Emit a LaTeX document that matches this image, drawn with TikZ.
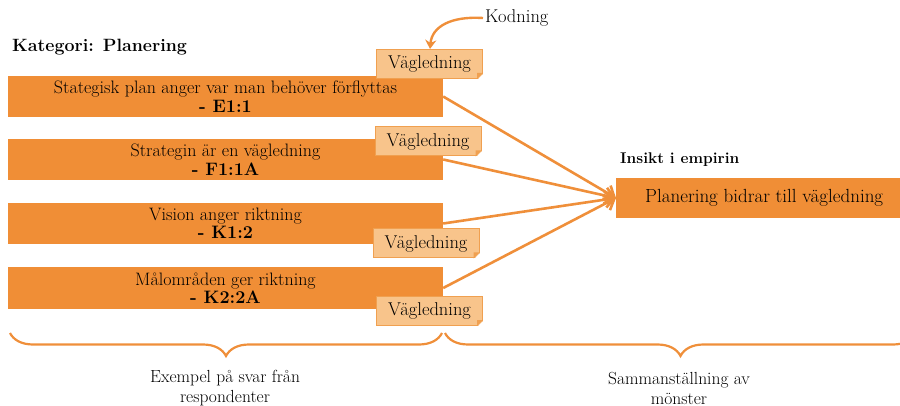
\documentclass[tikz,border=0pt]{standalone}
\usetikzlibrary{arrows.meta,decorations.pathreplacing}
\definecolor{boxor}{HTML}{F08E36}
\definecolor{tagfill}{HTML}{F8C48B}
\definecolor{tagline}{HTML}{F0A050}
\definecolor{linor}{HTML}{EF8F3A}
\tikzset{
  sbox/.style={fill=boxor, minimum width=435pt, minimum height=41pt, inner sep=0pt, align=center,
    font=\fontsize{18}{18.5}\selectfont},
  tagbox/.style={fill=tagfill, draw=tagline, line width=1pt, minimum width=106pt, minimum height=29pt,
    inner sep=0pt, font=\fontsize{18.5}{20}\selectfont},
  conn/.style={draw=linor, line width=2.6pt, -{Straight Barb[length=9pt,width=16pt,line width=2.6pt]}},
  bracestyle/.style={draw=linor, line width=2.2pt, decorate, decoration={brace,mirror,amplitude=23pt}},
  lbl/.style={align=center, font=\fontsize{17.5}{20}\selectfont},
}
\newcommand{\tagfold}[1]{%
  \fill[tagline] ([xshift=-6pt]#1.south east) -- ([yshift=6pt]#1.south east) -- ([xshift=-6pt,yshift=6pt]#1.south east) -- cycle;
  \fill[white] ([xshift=-5.5pt,yshift=-0.6pt]#1.south east) -- ([xshift=0.6pt,yshift=5.5pt]#1.south east) -- ([xshift=0.6pt,yshift=-0.6pt]#1.south east) -- cycle;}
\begin{document}
\begin{tikzpicture}[x=1pt,y=-1pt]
\useasboundingbox (0,0) rectangle (900,406);
\clip (0,0) rectangle (900,406);

\node[font=\fontsize{17.8}{20}\selectfont\bfseries, anchor=west, inner sep=0pt] (kat) at (12,47) {Kategori: Planering};
\node[font=\fontsize{18.5}{20}\selectfont, anchor=west, inner sep=0pt] (kod) at (485,18) {Kodning};

\node[sbox] (b1) at (225.5,96.5) {Stategisk plan anger var man behöver förflyttas\\\textbf{- E1:1}};
\node[sbox] (b2) at (225.5,159.5) {Strategin är en vägledning\\\textbf{- F1:1A}};
\node[sbox] (b3) at (225.5,223.5) {Vision anger riktning\\\textbf{- K1:2}};
\node[sbox] (b4) at (225.5,288) {Målområden ger riktning\\\textbf{- K2:2A}};

\node[font=\fontsize{15.5}{18}\selectfont\bfseries, anchor=west, inner sep=0pt] (ins) at (620,160) {Insikt i empirin};
\node[fill=boxor, minimum width=290pt, minimum height=40pt, inner sep=0pt, anchor=west,
  font=\fontsize{19}{20}\selectfont] (tg) at (616,198) {\hspace*{6pt}Planering bidrar till vägledning};

\draw[conn] (b1.east) -- (tg.west);
\draw[conn] (b2.east) -- (tg.west);
\draw[conn] (b3.east) -- (tg.west);
\draw[conn] (b4.east) -- (tg.west);

\node[tagbox] (t1) at (429.5,64) {Vägledning};
\node[tagbox] (t2) at (428,141.5) {Vägledning};
\node[tagbox] (t3) at (426,243.5) {Vägledning};
\node[tagbox] (t4) at (429.5,311) {Vägledning};
\tagfold{t1}\tagfold{t2}\tagfold{t3}\tagfold{t4}

\draw[draw=linor, line width=2.4pt, -{Stealth[length=9pt,width=11pt]}]
  ([xshift=-2pt]kod.west) .. controls (452,16) and (432,26) .. (t1.north west -| 430,0);

\coordinate (bl1) at (10,333);
\coordinate (bl2) at (442,333);
\coordinate (br1) at (445,333);
\coordinate (br2) at (916,333);
\draw[bracestyle] (bl1) -- (bl2);
\draw[bracestyle] (br1) -- (br2);

\node[lbl] (ex) at (225,388) {Exempel på svar från\\respondenter};
\node[lbl] (sm) at (679,388) {Sammanställning av\\mönster};
\end{tikzpicture}
\end{document}
